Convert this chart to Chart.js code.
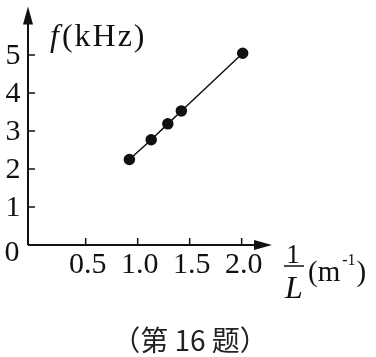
<!DOCTYPE html>
<html>
<head>
<meta charset="utf-8">
<script src="https://cdn.jsdelivr.net/npm/chart.js@4"></script>
<style>
  html, body { margin: 0; padding: 0; background: #fff; }
  #wrap { width: 376px; height: 357px; position: relative; }
</style>
</head>
<body>
<div id="wrap"><canvas id="chart"></canvas></div>
<script>
// data: 1/L (m^-1) vs f (kHz)
const invL = [0.92, 1.13, 1.29, 1.42, 2.01];
const freq = [2.25, 2.77, 3.19, 3.53, 5.05];

const xTicks = [0.5, 1.0, 1.5, 2.0];
const xTickLabels = ['0.5', '1.0', '1.5', '2.0'];
const yTicks = [1, 2, 3, 4, 5];
const yTickLabels = ['1', '2', '3', '4', '5'];
const caption = '（第 16 题）';

const SERIF = '"Liberation Serif", "DejaVu Serif", serif';
const INK = '#111';

// axes, arrows, ticks and labels drawn by hand on top of the scales
const axisPlugin = {
  id: 'axisPlugin',
  afterDraw(chart) {
    const { ctx, chartArea: a, scales: { x, y } } = chart;
    ctx.save();
    ctx.strokeStyle = INK;
    ctx.fillStyle = INK;
    ctx.lineWidth = 2;

    // axis lines
    ctx.beginPath();
    ctx.moveTo(a.left, a.bottom);
    ctx.lineTo(a.left, a.top + 14);
    ctx.moveTo(a.left, a.bottom);
    ctx.lineTo(a.right - 14, a.bottom);
    ctx.stroke();

    // arrow heads
    ctx.beginPath();
    ctx.moveTo(a.left, a.top);
    ctx.lineTo(a.left - 5, a.top + 18);
    ctx.lineTo(a.left + 5, a.top + 18);
    ctx.closePath();
    ctx.fill();
    ctx.beginPath();
    ctx.moveTo(a.right, a.bottom);
    ctx.lineTo(a.right - 18, a.bottom - 5);
    ctx.lineTo(a.right - 18, a.bottom + 5);
    ctx.closePath();
    ctx.fill();

    // ticks (inward)
    ctx.lineWidth = 1.5;
    ctx.beginPath();
    xTicks.forEach(v => {
      const px = x.getPixelForValue(v);
      ctx.moveTo(px, a.bottom);
      ctx.lineTo(px, a.bottom - 7);
    });
    yTicks.forEach(v => {
      const py = y.getPixelForValue(v);
      ctx.moveTo(a.left, py);
      ctx.lineTo(a.left + 7, py);
    });
    ctx.stroke();

    // tick labels
    ctx.font = '30px ' + SERIF;
    ctx.textAlign = 'center';
    ctx.textBaseline = 'middle';
    xTicks.forEach((v, i) => {
      ctx.fillText(xTickLabels[i], x.getPixelForValue(v) + 2, a.bottom + 20);
    });
    yTicks.forEach((v, i) => {
      ctx.fillText(yTickLabels[i], a.left - 15, y.getPixelForValue(v) + 1);
    });
    ctx.fillText('0', a.left - 16, y.getPixelForValue(0) + 8);

    // y axis title: f(kHz)
    ctx.textAlign = 'left';
    ctx.textBaseline = 'alphabetic';
    ctx.font = 'italic 32px ' + SERIF;
    ctx.fillText('f', 50, 46);
    const fw = ctx.measureText('f').width;
    ctx.font = '32px ' + SERIF;
    ctx.letterSpacing = '2px';
    ctx.fillText('(kHz)', 50 + fw + 3, 46);
    ctx.letterSpacing = '0px';

    // x axis title: 1/L (m^-1)
    ctx.textAlign = 'center';
    ctx.font = '27px ' + SERIF;
    ctx.fillText('1', 293, 263);
    ctx.lineWidth = 1.5;
    ctx.beginPath();
    ctx.moveTo(284, 266);
    ctx.lineTo(304, 266);
    ctx.stroke();
    ctx.font = 'italic 32px ' + SERIF;
    ctx.fillText('L', 294, 298);
    ctx.textAlign = 'left';
    ctx.font = '29px ' + SERIF;
    ctx.fillText('(m', 308, 281);
    const mw = ctx.measureText('(m').width;
    ctx.font = '16px ' + SERIF;
    ctx.fillText('-1', 308 + mw + 2, 265);
    const sw = ctx.measureText('-1').width;
    ctx.font = '29px ' + SERIF;
    ctx.fillText(')', 308 + mw + sw + 3, 281);

    // caption
    ctx.textAlign = 'center';
    ctx.textBaseline = 'middle';
    ctx.fillStyle = '#222';
    ctx.font = '28px "Noto Sans CJK SC", sans-serif';
    ctx.fillText(caption, 190, 340);
    ctx.restore();
  }
};

new Chart(document.getElementById('chart'), {
  type: 'scatter',
  data: {
    datasets: [{
      data: invL.map((v, i) => ({ x: v, y: freq[i] })),
      showLine: true,
      borderColor: INK,
      borderWidth: 1.5,
      backgroundColor: INK,
      pointBackgroundColor: INK,
      pointBorderColor: INK,
      pointRadius: 5,
      tension: 0,
    }],
  },
  options: {
    responsive: true,
    maintainAspectRatio: false,
    animation: false,
    layout: { padding: { left: 28, right: 104, top: 5, bottom: 112 } },
    plugins: { legend: { display: false }, tooltip: { enabled: false } },
    scales: {
      x: { type: 'linear', min: -0.055, max: 2.292, display: false },
      y: { type: 'linear', min: 0, max: 6.28, display: false },
    },
  },
  plugins: [axisPlugin],
});
</script>
</body>
</html>
